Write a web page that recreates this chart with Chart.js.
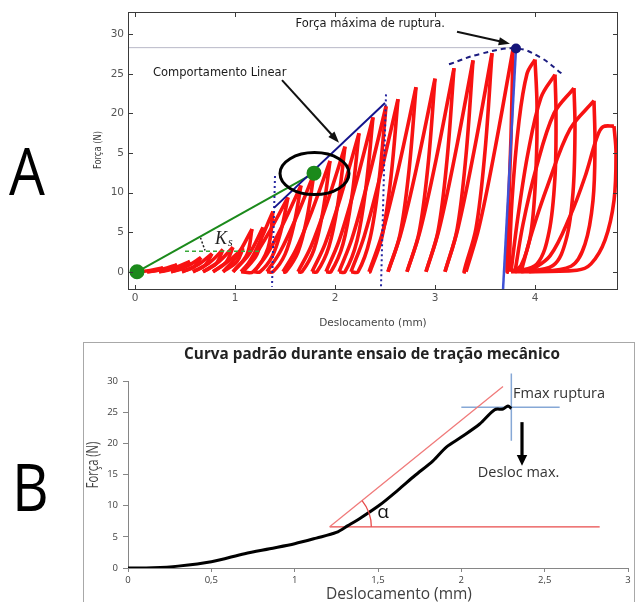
<!DOCTYPE html>
<html>
<head>
<meta charset="utf-8">
<script src="https://cdn.jsdelivr.net/npm/chart.js@4.4.0/dist/chart.umd.min.js"></script>
<style>
  body { margin: 0; background: #fff; }
  #pagina { position: relative; width: 636px; height: 602px; overflow: hidden; background: #fff; }
  .letra { position: absolute; font-family: 'Open Sans'; font-size: 66px; line-height: 1; color: #000;
           transform-origin: left top; transform: scaleX(0.86); }
  #graficoA { position: absolute; left: 80px; top: 0; }
  #graficoB { position: absolute; left: 83px; top: 342px; }
</style>
</head>
<body>
<div id="pagina">
  <div class="letra" style="left:9px; top:136px;">A</div>
  <div class="letra" style="left:12px; top:452px;">B</div>
  <canvas id="graficoA" width="556" height="340"></canvas>
  <canvas id="graficoB" width="553" height="260"></canvas>
</div>
<script>
// ---------- Grafico A: ensaio ciclico ----------
const ticksXA = [0, 1, 2, 3, 4];
const ticksYA = [0, 5, 10, 15, 20, 25, 30];
const rotulosYA = ['0', '5', '10', '5', '20', '25', '30'];

// curva registrada (deslocamento mm, forca N), na ordem do ensaio
const cargaA = [
  [0.02, 0], [0.15, 0.15], [0.28, 0.5], [0.22, 0.15], [0.12, 0],
  [0.28, 0.35], [0.42, 0.9], [0.36, 0.3], [0.24, 0],
  [0.40, 0.5], [0.55, 1.3], [0.48, 0.45], [0.36, 0],
  [0.52, 0.7], [0.66, 1.8], [0.59, 0.6], [0.47, 0],
  [0.63, 0.9], [0.77, 2.3], [0.70, 0.8], [0.58, 0],
  [0.74, 1.1], [0.88, 2.8], [0.81, 1.0], [0.68, 0],
  [0.84, 1.3], [0.98, 3.1], [0.91, 1.2], [0.78, 0],
  [0.94, 1.4], [1.08, 3.0], [1.02, 1.3], [0.88, 0],
  [1.02, 2.0], [1.17, 5.4], [1.12, 2.2], [0.98, 0],
  [1.14, 2.2], [1.28, 5.6], [1.22, 2.2], [1.08, 0],
  [1.20, 2.5], [1.38, 7.6], [1.33, 3.0], [1.18, 0],
  [1.06, 0], [1.19, 1.9], [1.35, 5.2], [1.53, 9.4], [1.46, 5.2], [1.37, 1.9], [1.25, 0],
  [1.19, 0], [1.32, 2.2], [1.48, 6.0], [1.66, 10.9], [1.59, 6.0], [1.50, 2.2], [1.38, 0],
  [1.32, 0], [1.45, 2.5], [1.61, 6.8], [1.79, 12.4], [1.72, 6.8], [1.63, 2.5], [1.51, 0],
  [1.48, 0], [1.61, 2.8], [1.77, 7.7], [1.95, 14.0], [1.88, 7.7], [1.79, 2.8], [1.67, 0],
  [1.63, 0], [1.76, 3.2], [1.92, 8.7], [2.10, 15.8], [2.03, 8.7], [1.94, 3.2], [1.82, 0],
  [1.77, 0], [1.90, 3.5], [2.06, 9.6], [2.24, 17.5], [2.17, 9.6], [2.08, 3.5], [1.96, 0],
  [1.91, 0], [2.04, 3.9], [2.20, 10.7], [2.38, 19.5], [2.31, 10.7], [2.22, 3.9], [2.10, 0],
  [2.04, 0], [2.17, 4.2], [2.33, 11.5], [2.51, 20.9], [2.44, 11.5], [2.35, 4.2], [2.23, 0],
  [2.16, 0], [2.29, 4.4], [2.45, 12.0], [2.63, 21.8], [2.56, 12.0], [2.47, 4.4], [2.35, 0],
  [2.34, 0], [2.47, 4.7], [2.63, 12.8], [2.81, 23.3], [2.74, 12.8], [2.65, 4.7], [2.53, 0],
  [2.53, 0], [2.66, 4.9], [2.82, 13.4], [3.00, 24.4], [2.93, 13.4], [2.84, 4.9], [2.72, 0],
  [2.72, 0], [2.85, 5.1], [3.01, 14.1], [3.19, 25.7], [3.12, 14.1], [3.03, 5.1], [2.91, 0],
  [2.91, 0], [3.04, 5.3], [3.20, 14.7], [3.38, 26.7], [3.31, 14.7], [3.22, 5.3], [3.10, 0],
  [3.10, 0], [3.23, 5.5], [3.39, 15.2], [3.57, 27.6], [3.50, 15.2], [3.41, 5.5], [3.29, 0],
  [3.31, 0], [3.44, 5.6], [3.60, 15.5], [3.78, 28.1], [3.76, 17.0], [3.73, 6.0], [3.72, 0],
  [3.74, 0], [3.77, 9], [3.84, 19], [3.92, 25], [4.00, 26.8], [4.02, 21], [4.01, 13], [3.96, 5], [3.86, 0.8], [3.76, 0],
  [3.83, 7], [3.93, 15], [4.06, 22], [4.20, 24.9], [4.21, 20], [4.20, 12], [4.14, 5], [4.02, 1], [3.80, 0],
  [3.88, 6], [4.01, 13], [4.19, 20], [4.39, 23.2], [4.40, 18], [4.38, 10], [4.31, 4], [4.18, 0.8], [3.86, 0],
  [3.97, 5], [4.13, 11], [4.35, 18], [4.59, 21.6], [4.60, 16], [4.58, 9], [4.50, 3.5], [4.36, 0.7], [3.94, 0],
  [4.15, 2], [4.35, 7], [4.50, 12], [4.62, 17], [4.68, 18.3], [4.79, 18.4], [4.81, 15], [4.79, 9], [4.70, 4], [4.56, 1], [4.42, 0.2], [3.76, 0]
];

const linhaLinearA = [[1.39, 8.07], [2.50, 21.3]];
const pontilhadoA1 = [[1.40, 12.1], [1.37, -1.9]];
const pontilhadoA2 = [[2.51, 22.4], [2.46, -1.9]];
const retaVerdeA = [[0.02, 0], [1.79, 12.45]];
const tracejadoVerdeA = [[0.50, 2.6], [1.24, 2.6]];
const marcaKsA = [[0.655, 4.3], [0.70, 2.7]];
const arcoRupturaA = [[3.14, 26.2], [3.45, 27.5], [3.81, 28.2], [4.05, 27.1], [4.27, 25.0]];
const retaRupturaA = [[3.81, 28.2], [3.68, -2.3]];
const pontoMaxA = [[3.81, 28.2]];
const linhaCinzaA = [[-0.07, 28.3], [3.81, 28.3]];
const elipseA = [1.795, 12.4, 0.345, 2.65]; // centro x, centro y, raio x, raio y
const setaLinearA = [[1.47, 24.2], [2.04, 16.3]];
const setaMaxA = [[3.22, 30.3], [3.75, 28.8]];

// ---------- Grafico B: curva padrao ----------
const ticksXB = [0, 0.5, 1, 1.5, 2, 2.5, 3];
const rotulosXB = ['0', '0,5', '1', '1,5', '2', '2,5', '3'];
const ticksYB = [0, 5, 10, 15, 20, 25, 30];
const curvaB = [
  [0, 0], [0.15, 0.05], [0.30, 0.3], [0.50, 1.0], [0.70, 2.3], [0.85, 3.1], [1.00, 3.9],
  [1.13, 4.8], [1.25, 5.7], [1.32, 6.8], [1.40, 8.1], [1.51, 10.1], [1.62, 12.5],
  [1.72, 14.8], [1.83, 17.2], [1.91, 19.4], [2.00, 21.0], [2.11, 23.1], [2.20, 25.4],
  [2.25, 25.5], [2.28, 26.0], [2.30, 25.6]
];
const tangenteB = [[1.21, 6.6], [2.25, 29.1]];
const horizontalB = [[1.21, 6.6], [2.83, 6.6]];
const cruzHB = [[2.00, 25.8], [2.59, 25.8]];
const cruzVB = [[2.30, 31.2], [2.30, 20.4]];
const setaB = [[2.364, 23.4], [2.364, 16.4]];

function pontos(pares) { return pares.map(p => ({ x: p[0], y: p[1] })); }
function serie(pares, extra) {
  return Object.assign({ data: pontos(pares), showLine: true, pointRadius: 0, fill: false,
                         tension: 0, order: 1, borderWidth: 2 }, extra);
}
// separa a curva em trechos de carga e descarga (subida / descida)
function trechos(pares) {
  const out = [];
  let cur = [pares[0]], dir = 0;
  for (let i = 1; i < pares.length; i++) {
    const d = Math.sign(pares[i][1] - pares[i - 1][1]);
    if (d !== 0 && dir !== 0 && d !== dir) { out.push(cur); cur = [cur[cur.length - 1]]; }
    if (d !== 0) dir = d;
    cur.push(pares[i]);
  }
  out.push(cur);
  return out;
}
function seta(ctx, x1, y1, x2, y2, larg, cab, meia) {
  const ang = Math.atan2(y2 - y1, x2 - x1);
  ctx.lineWidth = larg;
  ctx.beginPath();
  ctx.moveTo(x1, y1);
  ctx.lineTo(x2 - Math.cos(ang) * cab * 0.7, y2 - Math.sin(ang) * cab * 0.7);
  ctx.stroke();
  ctx.beginPath();
  ctx.moveTo(x2, y2);
  ctx.lineTo(x2 - cab * Math.cos(ang - meia), y2 - cab * Math.sin(ang - meia));
  ctx.lineTo(x2 - cab * Math.cos(ang + meia), y2 - cab * Math.sin(ang + meia));
  ctx.closePath();
  ctx.fill();
}
function textoVertical(ctx, txt, x, y, escala) {
  ctx.save();
  ctx.translate(x, y);
  ctx.rotate(-Math.PI / 2);
  ctx.scale(escala, 1);
  ctx.textAlign = 'center';
  ctx.textBaseline = 'middle';
  ctx.fillText(txt, 0, 0);
  ctx.restore();
}

const extrasA = {
  id: 'extrasA',
  afterDatasetsDraw(chart) {
    const { ctx, chartArea: a, scales: { x, y } } = chart;
    const P = (v) => [x.getPixelForValue(v[0]), y.getPixelForValue(v[1])];
    ctx.save();
    ctx.strokeStyle = '#3a3a3a';
    ctx.lineWidth = 1;
    ctx.strokeRect(a.left + 0.5, a.top + 0.5, a.width - 1, a.height - 1);
    ctx.beginPath();
    ticksXA.forEach(v => {
      const px = Math.round(x.getPixelForValue(v)) + 0.5;
      ctx.moveTo(px, a.bottom); ctx.lineTo(px, a.bottom - 5);
      ctx.moveTo(px, a.top); ctx.lineTo(px, a.top + 5);
    });
    ticksYA.forEach(v => {
      const py = Math.round(y.getPixelForValue(v)) + 0.5;
      ctx.moveTo(a.left, py); ctx.lineTo(a.left + 5, py);
      ctx.moveTo(a.right, py); ctx.lineTo(a.right - 5, py);
    });
    ctx.stroke();

    // elipse em torno do ponto de transicao
    const [cx, cy] = P(elipseA);
    const rx = x.getPixelForValue(elipseA[0] + elipseA[2]) - cx;
    const ry = cy - y.getPixelForValue(elipseA[1] + elipseA[3]);
    ctx.strokeStyle = '#000';
    ctx.lineWidth = 3;
    ctx.beginPath();
    ctx.ellipse(cx, cy, rx, ry, 0, 0, Math.PI * 2);
    ctx.stroke();

    // setas
    ctx.strokeStyle = '#111';
    ctx.fillStyle = '#111';
    let p1 = P(setaLinearA[0]), p2 = P(setaLinearA[1]);
    seta(ctx, p1[0], p1[1], p2[0], p2[1], 2, 12, 0.35);
    p1 = P(setaMaxA[0]); p2 = P(setaMaxA[1]);
    seta(ctx, p1[0], p1[1], p2[0], p2[1], 2, 12, 0.35);

    // textos
    ctx.fillStyle = '#1a1a1a';
    ctx.font = '11.5px "DejaVu Sans"';
    ctx.textBaseline = 'middle';
    ctx.textAlign = 'left';
    let t = P([0.18, 25.1]);
    ctx.fillText('Comportamento Linear', t[0], t[1]);
    ctx.textAlign = 'right';
    t = P([3.10, 31.3]);
    ctx.fillText('Força máxima de ruptura.', t[0], t[1]);

    ctx.textAlign = 'left';
    ctx.fillStyle = '#222';
    ctx.font = 'italic 18px "Liberation Serif"';
    t = P([0.80, 4.1]);
    ctx.fillText('K', t[0], t[1]);
    ctx.font = 'italic 12px "Liberation Serif"';
    ctx.fillText('s', t[0] + 13, t[1] + 4);

    // titulos dos eixos
    ctx.fillStyle = '#444';
    ctx.font = '10.5px "DejaVu Sans"';
    ctx.textAlign = 'center';
    ctx.fillText('Deslocamento (mm)', (a.left + a.right) / 2, a.bottom + 33);
    ctx.font = '10.5px "DejaVu Sans"';
    textoVertical(ctx, 'Força (N)', a.left - 30, 150, 0.8);
    ctx.restore();
  }
};

const conjA = [
  serie(pontoMaxA, { pointRadius: 4, pointBackgroundColor: '#15157a', pointBorderColor: '#15157a', showLine: false, order: 0 }),
  serie(retaVerdeA, { showLine: false, pointRadius: 6.5, pointBackgroundColor: '#1b8a1b', pointBorderColor: '#1b8a1b', order: 0 }),
  serie(retaRupturaA, { borderColor: '#3f52d6', borderWidth: 2.5, order: 1, clip: false }),
  serie(linhaLinearA, { borderColor: '#14148c', borderWidth: 2, order: 1 }),
  serie(pontilhadoA1, { borderColor: '#2626a0', borderWidth: 2, borderDash: [2, 3], order: 1 }),
  serie(pontilhadoA2, { borderColor: '#2626a0', borderWidth: 2, borderDash: [2, 3], order: 1 }),
  serie(arcoRupturaA, { borderColor: '#1c1c80', borderWidth: 2, borderDash: [5, 4], tension: 0.4, order: 1 }),
  serie(retaVerdeA, { borderColor: '#1b8a1b', borderWidth: 2, order: 1 }),
  serie(tracejadoVerdeA, { borderColor: '#3aa83a', borderWidth: 1.5, borderDash: [4, 3], order: 1 }),
  serie(marcaKsA, { borderColor: '#222', borderWidth: 1.5, borderDash: [2, 2], order: 1 }),
  serie(linhaCinzaA, { borderColor: '#b9b9c8', borderWidth: 1, order: 20 })
].concat(trechos(cargaA).map(seg => serie(seg, { borderColor: '#f81212', borderWidth: 3.6, tension: 0.35, order: 10 })));

new Chart(document.getElementById('graficoA'), {
  type: 'scatter',
  data: { datasets: conjA },
  options: {
    responsive: false,
    devicePixelRatio: 1,
    animation: false,
    layout: { padding: { left: 0, top: 12, right: 18, bottom: 0 } },
    plugins: { legend: { display: false }, tooltip: { enabled: false } },
    scales: {
      x: {
        type: 'linear', min: -0.07, max: 4.83,
        afterBuildTicks: s => { s.ticks = ticksXA.map(v => ({ value: v })); },
        afterFit: s => { s.height = 50; },
        ticks: { color: '#555', font: { family: 'DejaVu Sans', size: 10.5 }, padding: 2, maxRotation: 0, autoSkip: false },
        grid: { display: false, drawTicks: false },
        border: { display: false }
      },
      y: {
        type: 'linear', min: -2.3, max: 32.8,
        afterBuildTicks: s => { s.ticks = ticksYA.map(v => ({ value: v })); },
        afterFit: s => { s.width = 48; },
        ticks: { color: '#555', font: { family: 'DejaVu Sans', size: 10.5 }, padding: 4, autoSkip: false,
                 callback: (v, i) => rotulosYA[i] },
        grid: { display: false, drawTicks: false },
        border: { display: false }
      }
    }
  },
  plugins: [extrasA]
});

const extrasB = {
  id: 'extrasB',
  beforeDraw(chart) {
    const { ctx } = chart;
    ctx.save();
    ctx.strokeStyle = '#a8a8a8';
    ctx.lineWidth = 1;
    ctx.strokeRect(0.5, 0.5, chart.width - 2, chart.height + 10);
    ctx.restore();
  },
  afterDatasetsDraw(chart) {
    const { ctx, chartArea: a, scales: { x, y } } = chart;
    const P = (v) => [x.getPixelForValue(v[0]), y.getPixelForValue(v[1])];
    ctx.save();
    // arco do angulo alfa
    const c = P(tangenteB[0]);
    const f = P(tangenteB[1]);
    const ang = Math.atan2(f[1] - c[1], f[0] - c[0]);
    const r = x.getPixelForValue(tangenteB[0][0] + 0.25) - c[0];
    ctx.strokeStyle = '#e84a4a';
    ctx.lineWidth = 1.3;
    ctx.beginPath();
    ctx.arc(c[0], c[1], r, ang, 0);
    ctx.stroke();

    // seta do deslocamento maximo
    ctx.strokeStyle = '#000';
    ctx.fillStyle = '#000';
    const s1 = P(setaB[0]), s2 = P(setaB[1]);
    seta(ctx, s1[0], s1[1], s2[0], s2[1], 3.2, 12, 0.45);

    ctx.fillStyle = '#333';
    ctx.textBaseline = 'middle';
    ctx.font = '14.5px "Open Sans"';
    ctx.textAlign = 'left';
    let t = P([2.31, 28.0]);
    ctx.fillText('Fmax ruptura', t[0], t[1]);
    ctx.textAlign = 'center';
    t = P([2.343, 15.25]);
    ctx.fillText('Desloc max.', t[0], t[1]);
    ctx.fillStyle = '#111';
    ctx.font = '19px "Open Sans"';
    t = P([1.53, 8.9]);
    ctx.fillText('α', t[0], t[1]);

    // titulos
    ctx.fillStyle = '#222';
    ctx.font = 'bold 15.3px "Open Sans"';
    ctx.fillText('Curva padrão durante ensaio de tração mecânico', 289, 13);
    ctx.fillStyle = '#404040';
    ctx.font = '15.5px "Open Sans"';
    ctx.fillText('Deslocamento (mm)', a.left + 271, a.bottom + 27);
    textoVertical(ctx, 'Força (N)', 11, 123, 0.72);
    ctx.restore();
  }
};

const conjB = [
  serie(curvaB, { borderColor: '#000', borderWidth: 3, tension: 0.3, order: 0 }),
  serie(tangenteB, { borderColor: '#f07a7a', borderWidth: 1.3, order: 1, clip: false }),
  serie(horizontalB, { borderColor: '#e84a4a', borderWidth: 1.3, order: 1 }),
  serie(cruzHB, { borderColor: '#86a8d6', borderWidth: 1.5, order: 2 }),
  serie(cruzVB, { borderColor: '#86a8d6', borderWidth: 1.5, order: 2, clip: false })
];

new Chart(document.getElementById('graficoB'), {
  type: 'scatter',
  data: { datasets: conjB },
  options: {
    responsive: false,
    devicePixelRatio: 1,
    animation: false,
    layout: { padding: { left: 0, top: 39, right: 8, bottom: 0 } },
    plugins: { legend: { display: false }, tooltip: { enabled: false } },
    scales: {
      x: {
        type: 'linear', min: 0, max: 3,
        afterBuildTicks: s => { s.ticks = ticksXB.map(v => ({ value: v })); },
        afterFit: s => { s.height = 34; },
        ticks: { color: '#404040', font: { family: 'Open Sans', size: 9.5 }, padding: 3, maxRotation: 0, autoSkip: false,
                 callback: (v, i) => rotulosXB[i] },
        grid: { drawOnChartArea: false, tickLength: 4, color: '#868686' },
        border: { color: '#868686' }
      },
      y: {
        type: 'linear', min: 0, max: 30,
        afterBuildTicks: s => { s.ticks = ticksYB.map(v => ({ value: v })); },
        afterFit: s => { s.width = 45; },
        ticks: { color: '#404040', font: { family: 'Open Sans', size: 9.5 }, padding: 5, autoSkip: false },
        grid: { drawOnChartArea: false, tickLength: 5, color: '#868686' },
        border: { color: '#868686' }
      }
    }
  },
  plugins: [extrasB]
});
</script>
</body>
</html>
